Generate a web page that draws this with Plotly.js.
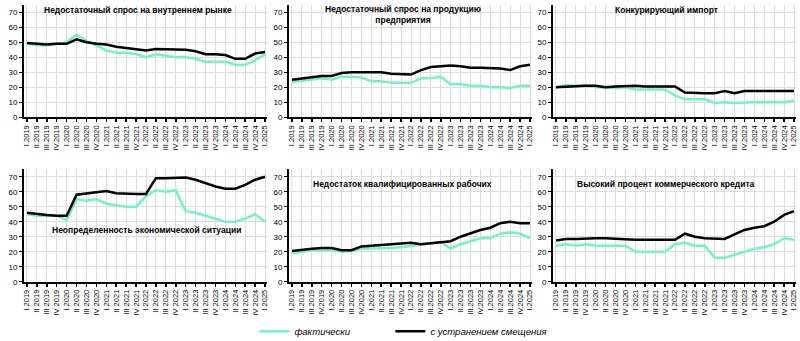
<!DOCTYPE html>
<html>
<head>
<meta charset="utf-8">
<script src="https://cdn.plot.ly/plotly-3.0.1.min.js"></script>
<style>html,body{margin:0;padding:0;background:#fff;}#chart{width:800px;height:341px;}</style>
</head>
<body>
<div id="chart"></div>
<script>
const quartersDot = ["I.2019","II.2019","III.2019","IV.2019","I.2020","II.2020","III.2020","IV.2020","I.2021","II.2021","III.2021","IV.2021","I.2022","II.2022","III.2022","IV.2022","I.2023","II.2023","III.2023","IV.2023","I.2024","II.2024","III.2024","IV.2024","I.2025"];
const quartersSpace = ["I 2019","II 2019","III 2019","IV 2019","I 2020","II 2020","III 2020","IV 2020","I 2021","II 2021","III 2021","IV 2021","I 2022","II 2022","III 2022","IV 2022","I 2023","II 2023","III 2023","IV 2023","I 2024","II 2024","III 2024","IV 2024","I 2025"];

const titles = [
  "Недостаточный спрос на внутреннем рынке",
  "Недостаточный спрос на продукцию<br>предприятия",
  "Конкурирующий импорт",
  "Неопределенность экономической ситуации",
  "Недостаток квалифицированных рабочих",
  "Высокий процент коммерческого кредита"
];
const seriesNames = ["фактически", "с устранением смещения"];

// Panel 1: Недостаточный спрос на внутреннем рынке
const p1Actual = [49,48,48,49,50,55,51,48,44.5,43,43,42,40,42,41,40,40,39,37,37,37,35,35,38,42];
const p1Adj    = [49.5,49,48.5,49,49,52,50,49,48.5,47,46,45,44.5,45.5,45.5,45,45,44,42,42,41.5,39,39,42.5,43.5];
// Panel 2: Недостаточный спрос на продукцию предприятия
const p2Actual = [23.5,24.5,25.5,26,25,27,27,26.5,24,24,23,23,23,26,26,27,22,22,21,21,20,20,19.5,21,21];
const p2Adj    = [25,26,26.5,27.5,27.5,29.5,30,30,30,30,29,29,28.5,31.5,33.5,34,34.5,34,33,33,33,32.5,31.5,34,35];
// Panel 3: Конкурирующий импорт
const p3Actual = [20,21.5,21,21,20,19.5,19.5,20,18.5,18.5,18.5,18.5,14.5,12,12,12,9.5,10,9.5,10,10,10,10,10,11];
const p3Adj    = [20,20.5,21,21,21,20,20.5,21,21,20.5,20.5,20.5,20.5,16.5,16,16,16,17.5,16,17.5,17.5,17.5,17.5,17.5,17.5];
// Panel 4: Неопределенность экономической ситуации
const p4Actual = [45,44,44,44,41,55,54,55,52,51,50,50,57,61,60,61,47,46,44,42,40,40,42,45,40];
const p4Adj    = [46,45,44.5,44,44,58,59,60,60.5,59,58.5,58.5,58.5,69,69,69,69.5,68,65.5,63.5,62,62,64.5,68,70];
// Panel 5: Недостаток квалифицированных рабочих
const p5Actual = [19,20,21,21,21,20,20.5,22,22,22.5,22.5,23,24,25,25.5,26.5,22,25,27,29,29,32,33,32,29];
const p5Adj    = [20.5,21.5,22,22.5,22.5,21,21,23.5,24,25,25.5,25.5,26,25,25.5,26.5,27,30,32.5,34.5,36,39,40,39,39];
// Panel 6: Высокий процент коммерческого кредита
const p6Actual = [24,25,24,25,24,24,24,24,20,20,20,20,25,26,24,24,16,16,18,20,22,23,25,29,28];
const p6Adj    = [27.5,28.5,28.5,29,29,29,28.5,28,28,28,28,28,28,32,30,29,28.5,28.5,31.5,34.5,36,37,40,44.5,47];

const actuals = [p1Actual,p2Actual,p3Actual,p4Actual,p5Actual,p6Actual];
const adjs = [p1Adj,p2Adj,p3Adj,p4Adj,p5Adj,p6Adj];
const cats = [quartersDot,quartersDot,quartersDot,quartersSpace,quartersDot,quartersSpace];

const aqua = "#72F2CC";
const black = "#000000";
const W = 800, H = 341;

// pixel layout of plot areas
const xDom = [[24,267],[289,532],[553,796]];
const yDomTop = [4.8,117.3];
const yDomBot = [169.2,281.7];

const legendBase = {
  orientation: "h", xanchor: "left", y: 0.071, yanchor: "top",
  font: {size: 9.5, style: "italic", color: "#000"},
  itemwidth: 30, bgcolor: "rgba(0,0,0,0)"
};

const data = [];
const layout = {
  width: W, height: H,
  margin: {l:0,r:0,t:0,b:0, autoexpand: false},
  paper_bgcolor: "#fff", plot_bgcolor: "#fff",
  font: {family: "Liberation Sans, Arial, sans-serif", size: 7.5, color: "#000"},
  showlegend: true,
  legend: Object.assign({}, legendBase, {x: 0.318}),
  legend2: Object.assign({}, legendBase, {x: 0.488}),
  annotations: []
};

const titlePos = [
  [138, 10], [402.5, 15], [666.7, 10],
  [146, 230], [402.5, 184], [665.5, 184]
];

for (let i = 0; i < 6; i++) {
  const row = Math.floor(i/3), col = i%3;
  const ax = i === 0 ? "" : String(i+1);
  const xd = xDom[col];
  const yd = row === 0 ? yDomTop : yDomBot;
  layout["xaxis"+ax] = {
    domain: [xd[0]/W, xd[1]/W],
    anchor: "y"+ax,
    type: "category",
    range: [-0.3, 24.2],
    tickangle: -90,
    showgrid: true, gridcolor: "#dcdcdc", gridwidth: 1,
    showline: true, linecolor: "#000", linewidth: 2,
    ticks: "outside", ticklen: 3, tickwidth: 1.5, tickcolor: "#000",
    tickfont: {size: 7.5, color: "#000"},
    fixedrange: true, zeroline: false
  };
  layout["yaxis"+ax] = {
    domain: [(H-yd[1])/H, (H-yd[0])/H],
    anchor: "x"+ax,
    range: [0, 75],
    tickvals: [0,10,20,30,40,50,60,70],
    showgrid: true, gridcolor: "#dcdcdc", gridwidth: 1,
    showline: true, linecolor: "#000", linewidth: 2,
    ticks: "outside", ticklen: 3, tickwidth: 1.5, tickcolor: "#000",
    tickfont: {size: 8, color: "#000"},
    zeroline: false, fixedrange: true
  };
  data.push({
    x: cats[i], y: actuals[i], type: "scatter", mode: "lines",
    xaxis: "x"+ax, yaxis: "y"+ax,
    line: {color: aqua, width: 2.5},
    name: seriesNames[0], legendgroup: "a", legend: "legend", showlegend: i === 0
  });
  data.push({
    x: cats[i], y: adjs[i], type: "scatter", mode: "lines",
    xaxis: "x"+ax, yaxis: "y"+ax,
    line: {color: black, width: 2.5},
    name: seriesNames[1], legendgroup: "b", legend: "legend2", showlegend: i === 0
  });
  layout.annotations.push({
    text: "<b>" + titles[i] + "</b>",
    xref: "paper", yref: "paper",
    x: titlePos[i][0]/W, y: (H-titlePos[i][1])/H,
    xanchor: "center", yanchor: "middle",
    showarrow: false, align: "center",
    font: {size: 8.5, color: "#000"}
  });
}

Plotly.newPlot("chart", data, layout, {displayModeBar: false, staticPlot: true});
</script>
</body>
</html>
